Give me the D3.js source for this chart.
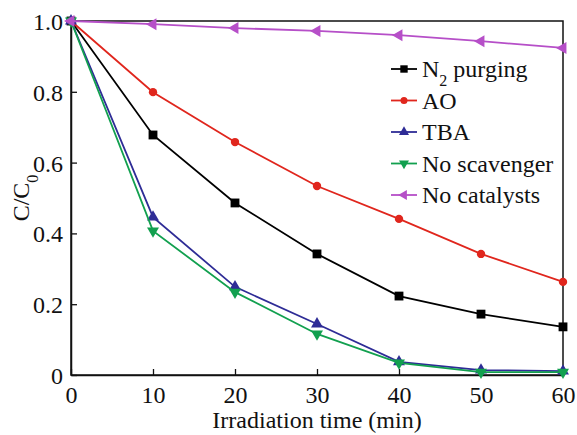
<!DOCTYPE html>
<html>
<head>
<meta charset="utf-8">
<script src="https://cdn.jsdelivr.net/npm/d3@7"></script>
<style>
  body { margin: 0; background: #fff; }
  svg text { font-family: "Liberation Serif", "Times New Roman", Tinos, "DejaVu Serif", serif !important; fill: #111; }
</style>
</head>
<body>
<svg id="chart" width="577" height="435"></svg>
<script>
const times = [0, 10, 20, 30, 40, 50, 60];
const n2Purging = [1.0, 0.678, 0.486, 0.342, 0.223, 0.172, 0.136];
const ao = [1.0, 0.799, 0.658, 0.534, 0.441, 0.342, 0.263];
const tba = [1.0, 0.446, 0.249, 0.144, 0.037, 0.014, 0.011];
const noScavenger = [1.0, 0.407, 0.234, 0.116, 0.034, 0.008, 0.008];
const noCatalysts = [1.0, 0.991, 0.980, 0.972, 0.960, 0.943, 0.924];
const xTicks = [0, 10, 20, 30, 40, 50, 60];
const yTicks = [0, 0.2, 0.4, 0.6, 0.8, 1.0];

const series = [
  { name: "N2 purging", values: n2Purging, color: "#000000", symbol: d3.symbolSquare, size: 78, rot: 0 },
  { name: "AO", values: ao, color: "#e0261d", symbol: d3.symbolCircle, size: 55, rot: 0 },
  { name: "TBA", values: tba, color: "#2e2c96", symbol: d3.symbolTriangle, size: 62, rot: 0 },
  { name: "No scavenger", values: noScavenger, color: "#12a04f", symbol: d3.symbolTriangle, size: 62, rot: 180 },
  { name: "No catalysts", values: noCatalysts, color: "#b64fc8", symbol: d3.symbolTriangle, size: 62, rot: -90 }
];

const svg = d3.select("#chart");
const pLeft = 71, pRight = 563, pTop = 21, pBottom = 375;

const x = d3.scaleLinear().domain([0, 60]).range([pLeft, pRight]);
const y = d3.scaleLinear().domain([0, 1]).range([pBottom, pTop]);

// frame
svg.append("rect")
  .attr("x", pLeft).attr("y", pTop)
  .attr("width", pRight - pLeft).attr("height", pBottom - pTop)
  .attr("fill", "none").attr("stroke", "#111").attr("stroke-width", 1.5);

const xAxis = svg.append("g")
  .attr("transform", "translate(0," + pBottom + ")")
  .call(d3.axisBottom(x).tickValues(xTicks).tickSizeInner(-6).tickSizeOuter(0).tickPadding(11));
const yAxis = svg.append("g")
  .attr("transform", "translate(" + pLeft + ",0)")
  .call(d3.axisLeft(y).tickValues(yTicks).tickSizeInner(-6).tickSizeOuter(0).tickPadding(8)
    .tickFormat(d => d === 0 ? "0" : d3.format(".1f")(d)));

[xAxis, yAxis].forEach(g => {
  g.attr("font-family", null).attr("font-size", null);
  g.select(".domain").attr("stroke", "#111").attr("stroke-width", 1.5);
  g.selectAll(".tick line").attr("stroke", "#111").attr("stroke-width", 1.3);
  g.selectAll(".tick text").style("font-size", "24px").attr("fill", "#111");
});
yAxis.selectAll(".tick text").attr("dy", "0.35em");
xAxis.selectAll(".tick text").attr("dy", "0.72em");

// axis titles
svg.append("text")
  .attr("x", (pLeft + pRight) / 2).attr("y", 428)
  .attr("text-anchor", "middle").style("font-size", "24px")
  .text("Irradiation time (min)");
const yt = svg.append("text")
  .attr("transform", "translate(29,198) rotate(-90)")
  .attr("text-anchor", "middle").style("font-size", "24px");
yt.append("tspan").text("C/C");
yt.append("tspan").attr("baseline-shift", "sub").style("font-size", "16px").text("0");

const line = d3.line().x((d, i) => x(times[i])).y(d => y(d));

series.forEach(s => {
  svg.append("path")
    .datum(s.values)
    .attr("fill", "none").attr("stroke", s.color).attr("stroke-width", 1.8)
    .attr("d", line);
  svg.selectAll(null)
    .data(s.values)
    .enter().append("path")
    .attr("d", d3.symbol().type(s.symbol).size(s.size))
    .attr("transform", (d, i) => "translate(" + x(times[i]) + "," + y(d) + ") rotate(" + s.rot + ")")
    .attr("fill", s.color);
});

// legend
const legend = svg.append("g");
series.forEach((s, i) => {
  const ly = 69 + i * 31.5;
  legend.append("line")
    .attr("x1", 391).attr("x2", 417).attr("y1", ly).attr("y2", ly)
    .attr("stroke", s.color).attr("stroke-width", 1.8);
  legend.append("path")
    .attr("d", d3.symbol().type(s.symbol).size(s.size * 0.7))
    .attr("transform", "translate(404," + ly + ") rotate(" + s.rot + ")")
    .attr("fill", s.color);
  const t = legend.append("text")
    .attr("x", 422).attr("y", ly).attr("dy", "0.35em")
    .style("font-size", "24px");
  if (s.name === "N2 purging") {
    t.append("tspan").text("N");
    t.append("tspan").attr("baseline-shift", "sub").style("font-size", "16px").text("2");
    t.append("tspan").text(" purging");
  } else {
    t.text(s.name);
  }
});
</script>
</body>
</html>
